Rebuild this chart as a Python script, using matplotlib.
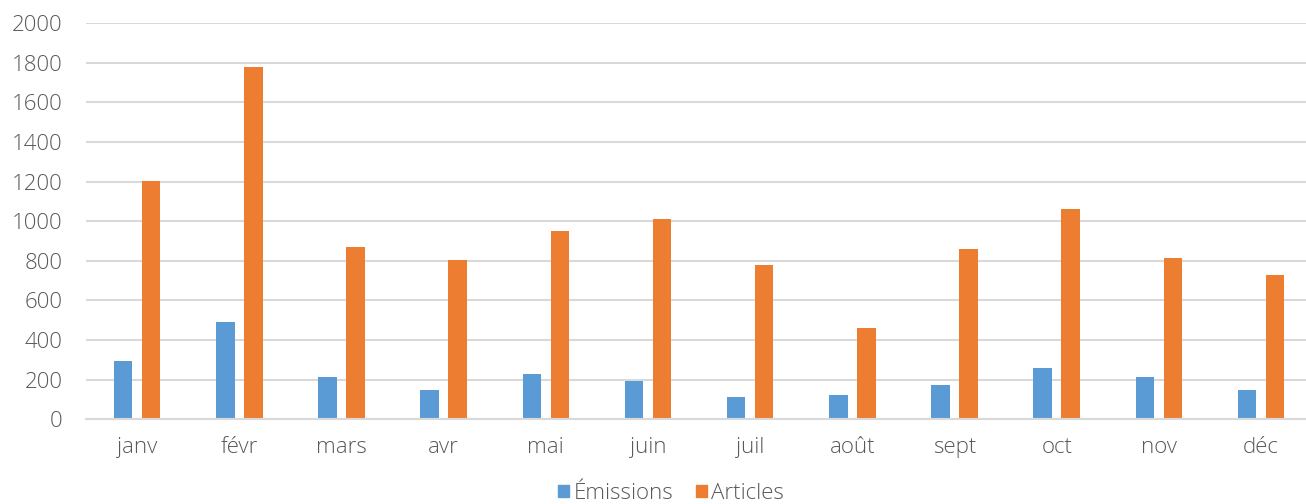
import numpy as np
import matplotlib.pyplot as plt
from matplotlib.patches import Patch

months = ["janv", "févr", "mars", "avr", "mai", "juin",
          "juil", "août", "sept", "oct", "nov", "déc"]
emissions = [293, 491, 214, 146, 229, 195, 114, 123, 175, 261, 212, 148]
articles = [1201, 1780, 871, 806, 950, 1011, 777, 461, 860, 1061, 816, 728]

blue = "#5B9BD5"
orange = "#ED7D31"
grid_col = "#D9D9D9"
text_col = "#595959"

plt.rcParams["font.family"] = ["Open Sans", "DejaVu Sans"]

fig = plt.figure(figsize=(13.06, 5.04), dpi=100)
ax = fig.add_axes([0.0658, 0.168, 0.939, 0.786])

x = np.arange(len(months))
w = 0.182
off = 0.137
ax.bar(x - off, emissions, width=w, color=blue, zorder=3)
ax.bar(x + off, articles, width=w, color=orange, zorder=3)

ax.set_xlim(-0.5, len(months) - 0.5)
ax.set_ylim(0, 2000)
ax.set_yticks(range(0, 2001, 200))
ax.set_xticks(x)
ax.set_xticklabels(months)

ax.yaxis.grid(True, color=grid_col, linewidth=1.5, zorder=0)
for s in ["top", "right", "left"]:
    ax.spines[s].set_visible(False)
ax.spines["bottom"].set_color(grid_col)
ax.spines["bottom"].set_linewidth(1.5)
ax.spines["bottom"].set_zorder(4)

ax.tick_params(axis="both", length=0, colors=text_col, labelsize=16)
ax.tick_params(axis="y", pad=17)
ax.tick_params(axis="x", pad=12.5)
for lab in ax.get_xticklabels() + ax.get_yticklabels():
    lab.set_fontweight("light")

# legend sits on the bottom edge of the figure
handles = [Patch(color=blue, label="Émissions"), Patch(color=orange, label="Articles")]
leg = fig.legend(handles=handles, loc="lower center", bbox_to_anchor=(0.514, 0.0),
                 ncol=2, frameon=False, handlelength=0.5, handleheight=0.5,
                 handletextpad=0.2, columnspacing=1.0, borderpad=0.0,
                 borderaxespad=0.0, prop={"size": 16, "weight": "light"})
for t in leg.get_texts():
    t.set_color(text_col)

fig.savefig("out.png", dpi=100)
